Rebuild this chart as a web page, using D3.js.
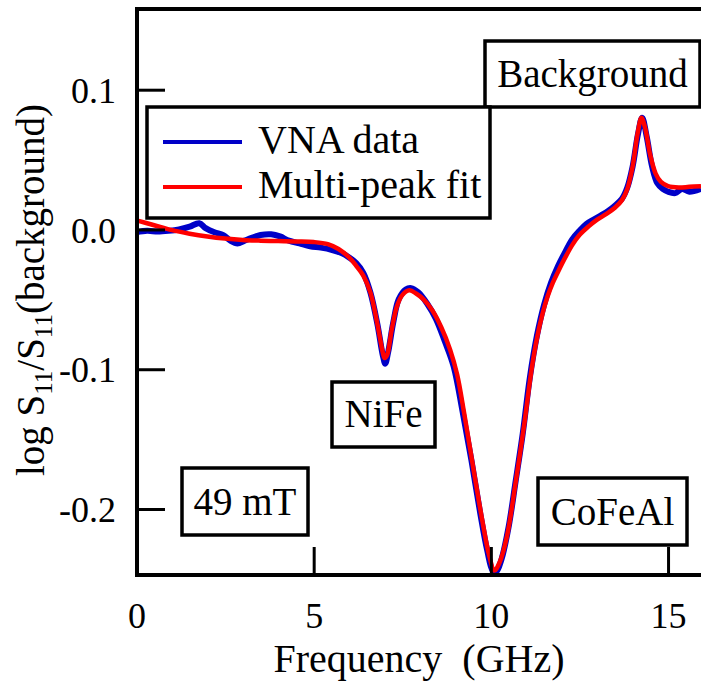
<!DOCTYPE html>
<html>
<head>
<meta charset="utf-8">
<script src="https://cdn.jsdelivr.net/npm/d3@7"></script>
<style>
  body { margin: 0; background: white; }
  svg { display: block; }
  text { font-family: "Liberation Serif", "Times New Roman", serif; }
</style>
</head>
<body>
<svg id="chart" width="701" height="687"></svg>
<script>
// VNA data (GHz, log S11/S11(background))
const vnaFreq = [0.00, 0.3, 0.6, 0.9, 1.2, 1.5, 1.77, 1.95, 2.2, 2.45, 2.65, 2.85, 3.05, 3.25, 3.5, 3.8, 4.05, 4.3, 4.6, 4.9,
  5.2, 5.5, 5.8, 6.0, 6.2, 6.4, 6.6, 6.8, 6.95, 7.02, 7.1, 7.25, 7.4, 7.6, 7.75, 7.95, 8.2, 8.45, 8.7, 8.95,
  9.2, 9.45, 9.7, 9.9, 10.05, 10.15, 10.3, 10.5, 10.7, 10.9, 11.1, 11.3, 11.5, 11.7, 11.9, 12.1, 12.3, 12.5, 12.7, 12.9,
  13.1, 13.3, 13.5, 13.7, 13.85, 14.0, 14.15, 14.27, 14.4, 14.55, 14.7, 14.85, 15.0, 15.2, 15.4, 15.6, 15.93];
const vnaValue = [-0.002, -0.001, -0.0015, -0.001, 0.000, 0.002, 0.0045, 0.001, -0.002, -0.004, -0.008, -0.010, -0.008, -0.006, -0.004, -0.0035, -0.005, -0.008, -0.010, -0.012,
  -0.013, -0.0145, -0.017, -0.020, -0.024, -0.031, -0.045, -0.068, -0.090, -0.096, -0.088, -0.066, -0.050, -0.043, -0.042, -0.045, -0.053, -0.064, -0.080, -0.098,
  -0.130, -0.165, -0.203, -0.230, -0.244, -0.245, -0.236, -0.213, -0.180, -0.146, -0.106, -0.076, -0.054, -0.038, -0.026, -0.016, -0.007, -0.001, 0.004, 0.007,
  0.010, 0.013, 0.017, 0.022, 0.030, 0.045, 0.068, 0.080, 0.066, 0.045, 0.033, 0.029, 0.027, 0.026, 0.029, 0.027, 0.029];

// multi-peak fit
const fitFreq = [0.0, 0.5, 1.0, 1.5, 2.0, 2.5, 3.0, 3.5, 4.0, 4.5, 5.0, 5.4, 5.7, 6.0, 6.2, 6.4, 6.6, 6.8, 6.95, 7.0,
  7.07, 7.2, 7.35, 7.5, 7.7, 7.9, 8.1, 8.35, 8.6, 8.85, 9.05, 9.25, 9.5, 9.75, 9.95, 10.1, 10.25, 10.45, 10.7, 10.95,
  11.15, 11.3, 11.45, 11.6, 11.75, 11.9, 12.1, 12.3, 12.5, 12.75, 13.0, 13.25, 13.5, 13.7, 13.85, 14.0, 14.15, 14.25, 14.35, 14.5,
  14.65, 14.8, 15.0, 15.3, 15.6, 15.93];
const fitValue = [0.0065, 0.003, -0.0005, -0.003, -0.005, -0.0065, -0.0075, -0.008, -0.0083, -0.0086, -0.009, -0.0105, -0.014, -0.020, -0.026, -0.033, -0.045, -0.068, -0.088, -0.092,
  -0.090, -0.072, -0.055, -0.047, -0.0435, -0.046, -0.050, -0.058, -0.070, -0.086, -0.104, -0.132, -0.170, -0.207, -0.233, -0.244, -0.238, -0.220, -0.181, -0.138,
  -0.100, -0.078, -0.061, -0.048, -0.038, -0.030, -0.020, -0.011, -0.004, 0.002, 0.007, 0.011, 0.0155, 0.021, 0.029, 0.045, 0.070, 0.080, 0.073, 0.053,
  0.040, 0.034, 0.031, 0.030, 0.0305, 0.031];

const xTicks = [0, 5, 10, 15];
const yTicks = [0.1, 0.0, -0.1, -0.2];
const yTickLabels = ["0.1", "0.0", "-0.1", "-0.2"];

const svg = d3.select("#chart");
const plotLeft = 137, plotRight = 701, plotTop = 9, plotBottom = 575;

const x = d3.scaleLinear().domain([0, 15.93]).range([136.5, 701]);
const y = d3.scaleLinear().domain([-0.2, 0.1]).range([509, 89.7]);

const vnaData = vnaFreq.map((f, i) => ({ f: f, v: vnaValue[i] }));
const fitData = fitFreq.map((f, i) => ({ f: f, v: fitValue[i] }));

svg.append("defs").append("clipPath")
  .attr("id", "plotClip")
  .append("rect")
  .attr("x", plotLeft)
  .attr("y", plotTop)
  .attr("width", plotRight - plotLeft)
  .attr("height", plotBottom - plotTop);

// curves
const plot = svg.append("g").attr("clip-path", "url(#plotClip)");

plot.append("path")
  .attr("d", d3.line().x(d => x(d.f)).y(d => y(d.v)).curve(d3.curveCatmullRom)(vnaData))
  .attr("fill", "none")
  .attr("stroke", "#0000c8")
  .attr("stroke-width", 6)
  .attr("stroke-linejoin", "round");

plot.append("path")
  .attr("d", d3.line().x(d => x(d.f)).y(d => y(d.v)).curve(d3.curveCatmullRom)(fitData))
  .attr("fill", "none")
  .attr("stroke", "#ff0000")
  .attr("stroke-width", 4.5)
  .attr("stroke-linejoin", "round");

// frame + axes
svg.append("line")
  .attr("x1", plotLeft).attr("x2", plotRight)
  .attr("y1", plotTop).attr("y2", plotTop)
  .attr("stroke", "black").attr("stroke-width", 4);

const yAxis = d3.axisLeft(y)
  .tickValues(yTicks)
  .tickSize(-28)
  .tickFormat((d, i) => yTickLabels[i]);

const gy = svg.append("g")
  .attr("transform", "translate(" + plotLeft + ",0)")
  .call(yAxis);
gy.select(".domain").remove();
gy.selectAll(".tick line").attr("stroke-width", 3);
gy.selectAll(".tick text")
  .attr("x", -21)
  .attr("dy", "0.35em")
  .attr("font-size", "36px")
  .attr("font-family", "Liberation Serif");

const xAxis = d3.axisBottom(x)
  .tickValues(xTicks)
  .tickSize(-28)
  .tickFormat(d3.format("d"));

const gx = svg.append("g")
  .attr("transform", "translate(0," + plotBottom + ")")
  .call(xAxis);
gx.select(".domain").remove();
gx.selectAll(".tick line").attr("stroke-width", 3);
gx.selectAll(".tick text")
  .attr("y", 53)
  .attr("dy", 0)
  .attr("font-size", "36px")
  .attr("font-family", "Liberation Serif");

svg.append("line")
  .attr("x1", plotLeft).attr("x2", plotLeft)
  .attr("y1", plotTop - 2).attr("y2", plotBottom + 2)
  .attr("stroke", "black").attr("stroke-width", 4);

svg.append("line")
  .attr("x1", plotLeft - 2).attr("x2", plotRight)
  .attr("y1", plotBottom).attr("y2", plotBottom)
  .attr("stroke", "black").attr("stroke-width", 4);

// axis titles
svg.append("text")
  .attr("x", 419)
  .attr("y", 672)
  .attr("text-anchor", "middle")
  .attr("font-size", "40px")
  .style("white-space", "pre")
  .text("Frequency  (GHz)");

const yTitle = svg.append("text")
  .attr("transform", "translate(44,290) rotate(-90)")
  .attr("text-anchor", "middle")
  .attr("font-size", "39px");
yTitle.append("tspan").text("log S");
yTitle.append("tspan").attr("font-size", "25px").attr("dy", 8).text("11");
yTitle.append("tspan").attr("dy", -8).text("/S");
yTitle.append("tspan").attr("font-size", "25px").attr("dy", 8).text("11");
yTitle.append("tspan").attr("dy", -8).text("(background)");

// annotation boxes
const labels = [
  { text: "Background", x0: 485, y0: 41, x1: 700, y1: 107, base: 87 },
  { text: "NiFe", x0: 332, y0: 382, x1: 435, y1: 447, base: 427 },
  { text: "CoFeAl", x0: 538, y0: 478, x1: 687, y1: 545, base: 525 },
  { text: "49 mT", x0: 182, y0: 468, x1: 308, y1: 535, base: 515 }
];

labels.forEach(d => {
  svg.append("rect")
    .attr("x", d.x0)
    .attr("y", d.y0)
    .attr("width", d.x1 - d.x0)
    .attr("height", d.y1 - d.y0)
    .attr("fill", "white")
    .attr("stroke", "black")
    .attr("stroke-width", 3.5);

  svg.append("text")
    .attr("x", (d.x0 + d.x1) / 2)
    .attr("y", d.base)
    .attr("text-anchor", "middle")
    .attr("font-size", "39px")
    .text(d.text);
});

// legend
svg.append("rect")
  .attr("x", 147)
  .attr("y", 107)
  .attr("width", 343)
  .attr("height", 111)
  .attr("fill", "white")
  .attr("stroke", "black")
  .attr("stroke-width", 3.5);

const legendItems = [
  { name: "VNA data", color: "#0000c8", y: 142 },
  { name: "Multi-peak fit", color: "#ff0000", y: 187 }
];

legendItems.forEach(d => {
  svg.append("line")
    .attr("x1", 163).attr("x2", 242)
    .attr("y1", d.y).attr("y2", d.y)
    .attr("stroke", d.color)
    .attr("stroke-width", 4);

  svg.append("text")
    .attr("x", 258)
    .attr("y", d.y + 11)
    .attr("font-size", "40px")
    .text(d.name);
});
</script>
</body>
</html>
